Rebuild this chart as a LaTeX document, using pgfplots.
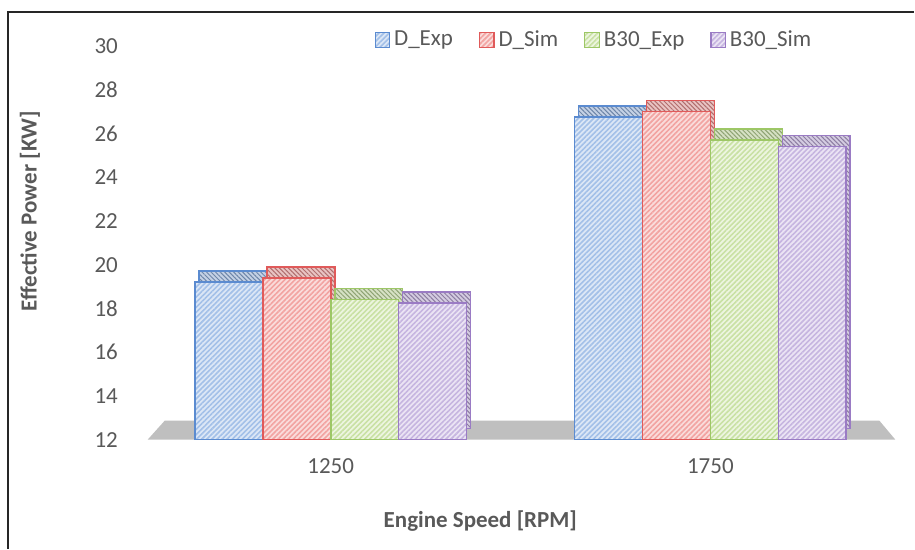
\documentclass[border=0pt]{standalone}
\usepackage{pgfplots}
\pgfplotsset{compat=1.18}
\usepackage{fontspec}
\setmainfont{Carlito}
\usetikzlibrary{patterns.meta}

\definecolor{txtgray}{HTML}{595959}
\definecolor{floorgray}{HTML}{BFBFBF}
\definecolor{dexpline}{HTML}{5B8BD0}
\definecolor{dexpstripe}{HTML}{A3C0E8}
\definecolor{dexpfill}{HTML}{DCE7F6}
\definecolor{dsimline}{HTML}{E05A5A}
\definecolor{dsimstripe}{HTML}{F2A3A1}
\definecolor{dsimfill}{HTML}{FADCDB}
\definecolor{bexpline}{HTML}{9DC766}
\definecolor{bexpstripe}{HTML}{C9E1A4}
\definecolor{bexpfill}{HTML}{EDF5E0}
\definecolor{bsimline}{HTML}{9A7BC4}
\definecolor{bsimstripe}{HTML}{C6B5E0}
\definecolor{bsimfill}{HTML}{EBE4F4}

% engine power, kW, at 1250 and 1750 rpm
\pgfplotstableread{
x dexp dsim bexp bsim
0 19.2 19.4 18.4 18.25
1 26.75 27.0 25.7 25.4
}\powertable

\tikzset{
  hatchbar/.style n args={3}{draw=#1, line width=0.8pt, fill=#3,
    postaction={pattern={Lines[angle=45,distance=1.8pt,line width=0.8pt]}, pattern color=#2}},
  hatchtop/.style n args={3}{draw=#1, line width=0.8pt, fill=#2!80!gray!60!white,
    postaction={pattern={Lines[angle=-45,distance=1.6pt,line width=0.5pt]}, pattern color=#1!50!gray}},
}

\begin{document}
\begin{tikzpicture}
\begin{axis}[
  name=ax,
  scale only axis,
  width=380pt, height=197pt,
  xmin=-0.5, xmax=1.5,
  ymin=12, ymax=30,
  ytick={12,14,...,30},
  xtick={0,1},
  xticklabels={1250,1750},
  axis line style={draw=none},
  major tick length=0pt,
  /pgf/number format/assume math mode=true,
  tick label style={font=\fontsize{11.5}{13}\selectfont, text=txtgray},
  yticklabel style={xshift=-8pt},
  xticklabel style={yshift=-6pt},
  xlabel={Engine Speed [RPM]},
  ylabel={Effective Power [KW]},
  label style={font=\fontsize{11.5}{13}\selectfont\bfseries, text=txtgray},
  xlabel style={at={(axis description cs:0.447,0)}, anchor=center, yshift=-41pt},
  ylabel style={at={(axis description cs:0,0.58)}, anchor=center, yshift=55.5pt},
  bar width=34pt,
  legend style={draw=none, fill=none, legend columns=-1,
    at={(axis description cs:0.598,1.015)}, anchor=center,
    font=\fontsize{11.5}{13}\selectfont, text=txtgray,
    /tikz/every even column/.append style={column sep=11pt}},
  legend cell align=left,
  legend image code/.code={\draw[#1, line width=0.6pt] (0pt,-3.6pt) rectangle (7.2pt,3.6pt);},
]
% floor
\fill[floorgray] (axis cs:-0.482,12) -- (axis cs:1.487,12)
  -- (axis cs:1.445,12.87) -- (axis cs:-0.437,12.87) -- cycle;

% tops and sides of the columns, set back in depth
\addplot[ybar, bar shift=-51pt, forget plot, xshift=2pt, yshift=5.5pt, hatchtop={dexpline}{dexpstripe}{dexpfill}]
  table[x=x, y=dexp] {\powertable};
\addplot[ybar, bar shift=-17pt, forget plot, xshift=2pt, yshift=5.5pt, hatchtop={dsimline}{dsimstripe}{dsimfill}]
  table[x=x, y=dsim] {\powertable};
\addplot[ybar, bar shift=17pt, forget plot, xshift=2pt, yshift=5.5pt, hatchtop={bexpline}{bexpstripe}{bexpfill}]
  table[x=x, y=bexp] {\powertable};
\addplot[ybar, bar shift=51pt, forget plot, xshift=2pt, yshift=5.5pt, hatchtop={bsimline}{bsimstripe}{bsimfill}]
  table[x=x, y=bsim] {\powertable};

% front faces
\addplot[ybar, bar shift=-51pt, hatchbar={dexpline}{dexpstripe}{dexpfill}]
  table[x=x, y=dexp] {\powertable};
\addlegendentry{D\_Exp}
\addplot[ybar, bar shift=-17pt, hatchbar={dsimline}{dsimstripe}{dsimfill}]
  table[x=x, y=dsim] {\powertable};
\addlegendentry{D\_Sim}
\addplot[ybar, bar shift=17pt, hatchbar={bexpline}{bexpstripe}{bexpfill}]
  table[x=x, y=bexp] {\powertable};
\addlegendentry{B30\_Exp}
\addplot[ybar, bar shift=51pt, hatchbar={bsimline}{bsimstripe}{bsimfill}]
  table[x=x, y=bsim] {\powertable};
\addlegendentry{B30\_Sim}
\end{axis}

% chart frame
\draw[black!85, line width=0.8pt] (-66.5pt,-54.5pt) -- (-66.5pt,214pt) -- (387pt,214pt);
\path[use as bounding box] (-70.5pt,-54.5pt) rectangle (387pt,220pt);
\end{tikzpicture}
\end{document}
